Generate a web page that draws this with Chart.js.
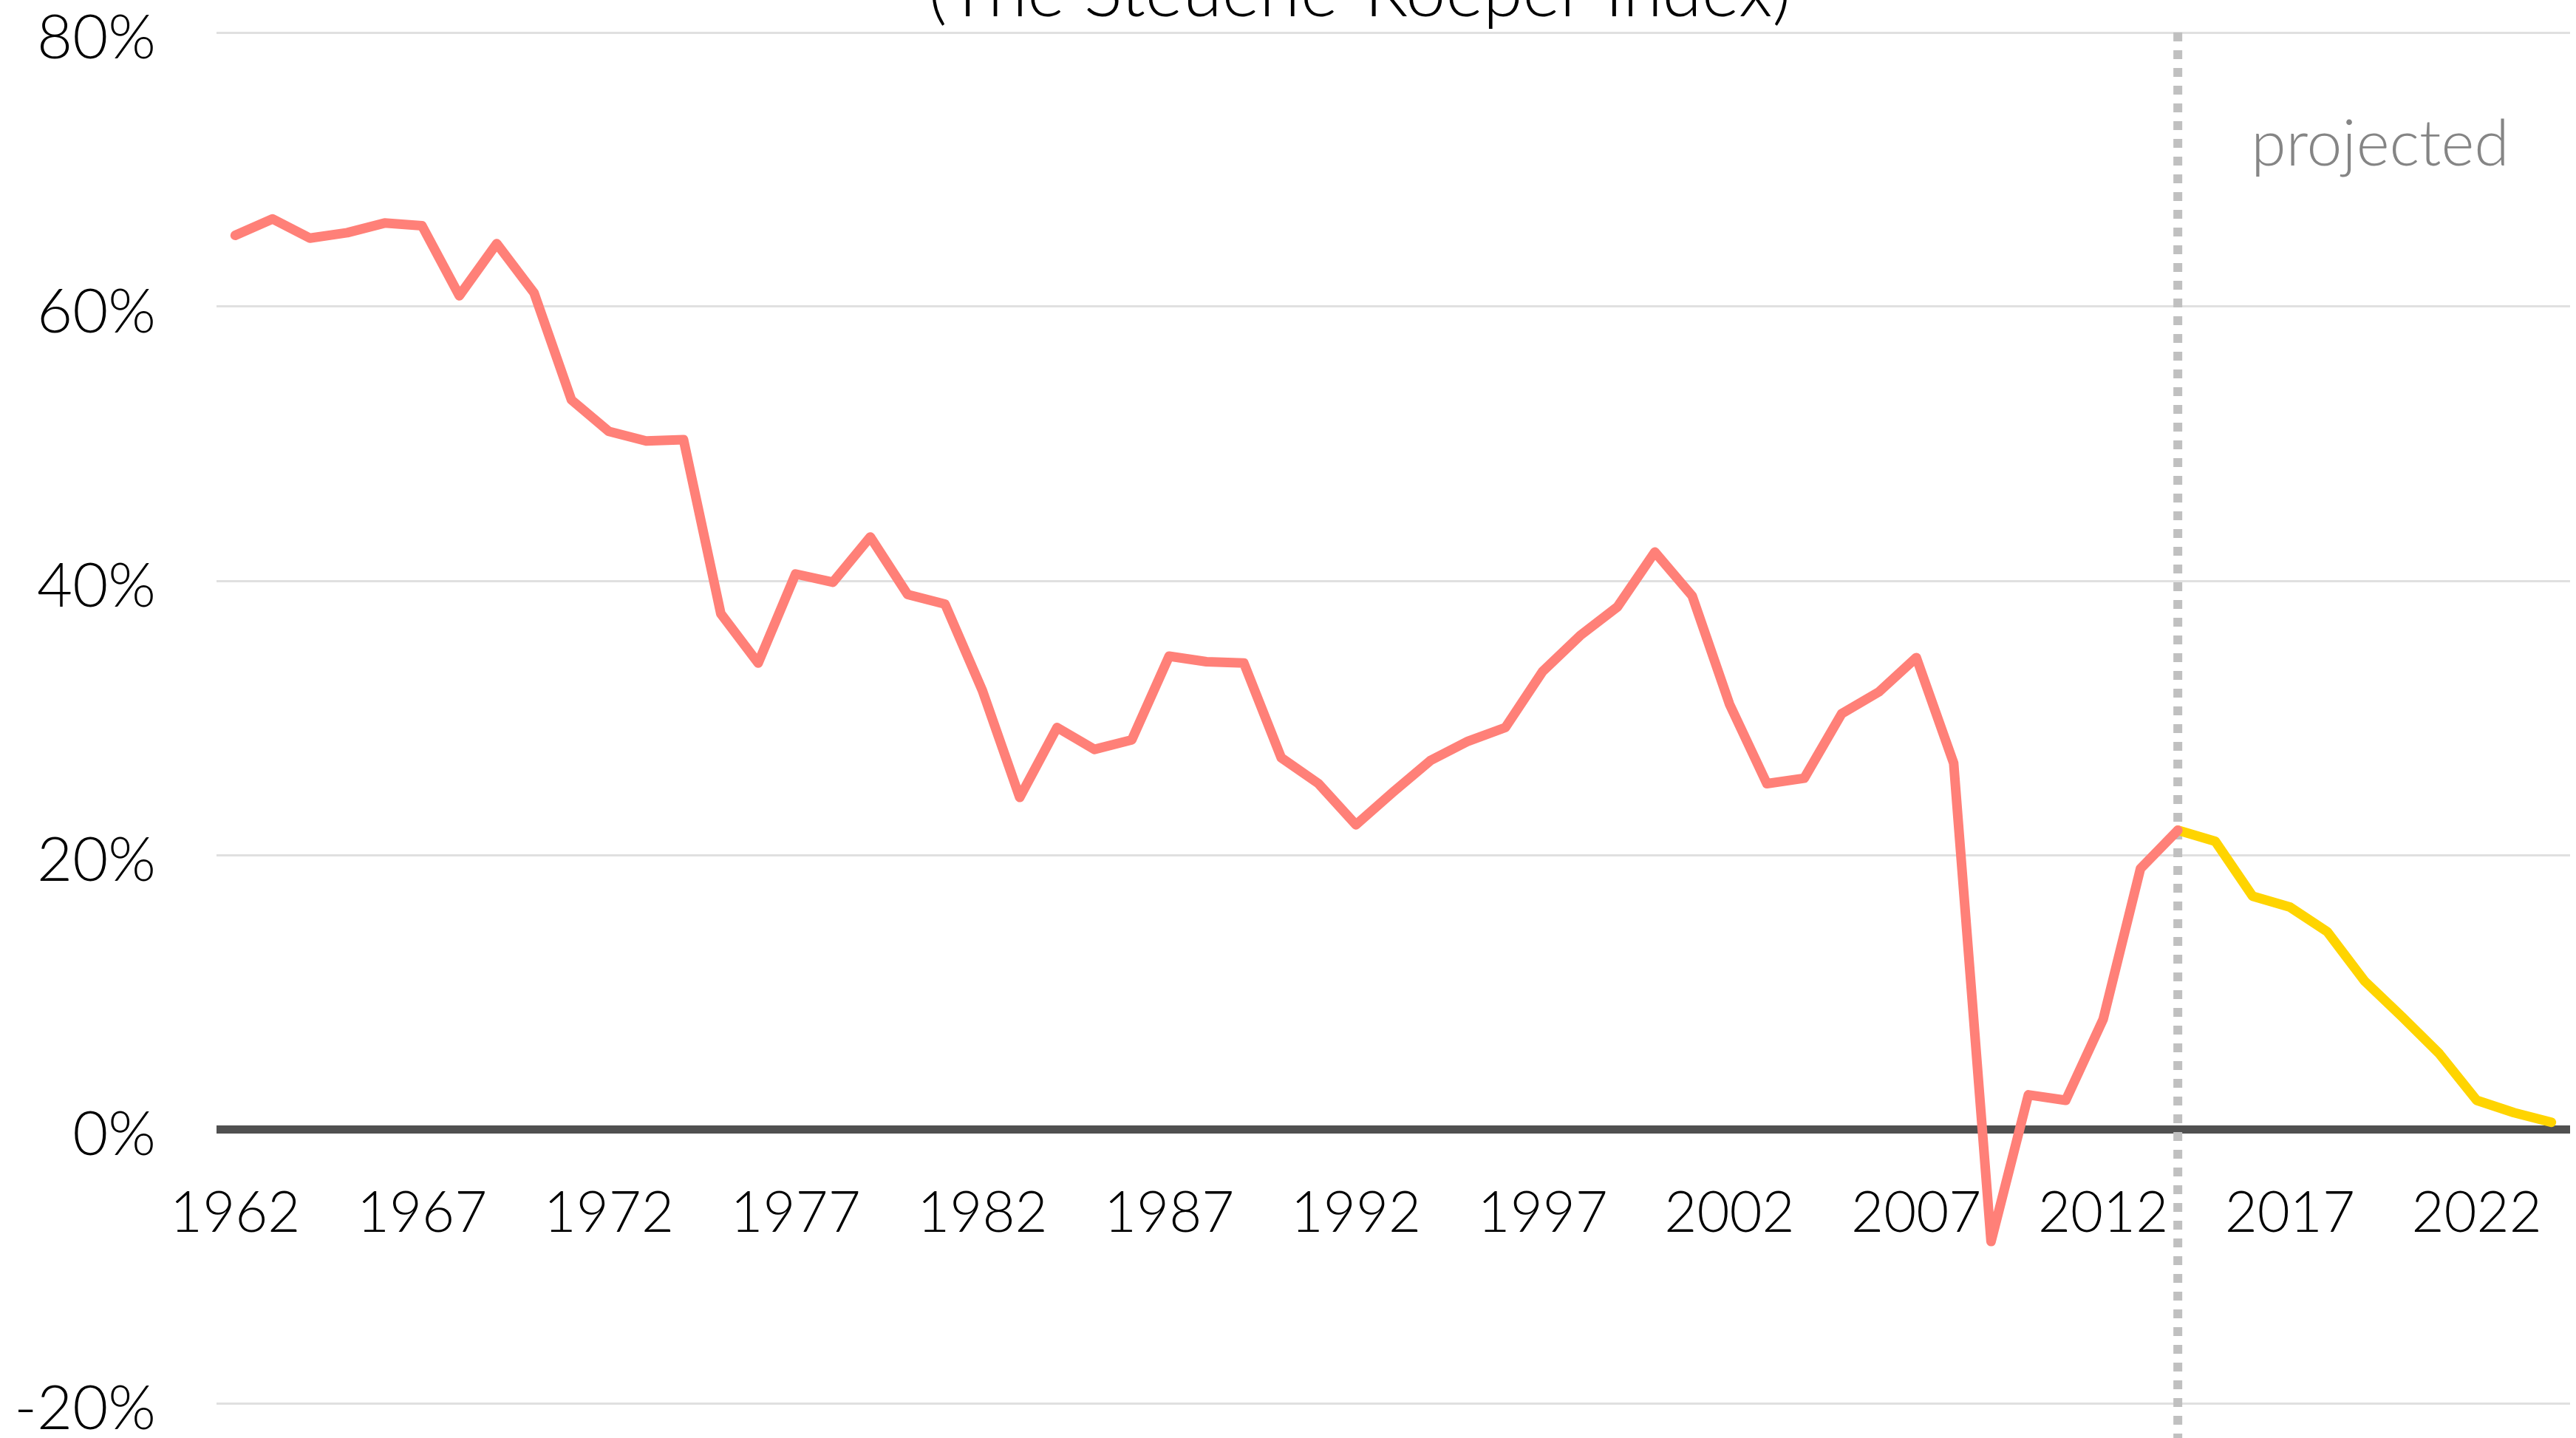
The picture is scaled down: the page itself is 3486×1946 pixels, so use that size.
<!DOCTYPE html>
<html>
<head>
<meta charset="utf-8">
<script src="https://cdn.jsdelivr.net/npm/chart.js@4.4.1/dist/chart.umd.min.js"></script>
<style>
  html, body { margin: 0; padding: 0; background: #fff; }
  #wrap { width: 3486px; height: 1946px; position: relative; }
</style>
</head>
<body>
<div id="wrap"><canvas id="myChart"></canvas></div>
<script>
// Datos (porcentaje)
const years = [
  1962, 1963, 1964, 1965, 1966, 1967, 1968, 1969, 1970, 1971,
  1972, 1973, 1974, 1975, 1976, 1977, 1978, 1979, 1980, 1981,
  1982, 1983, 1984, 1985, 1986, 1987, 1988, 1989, 1990, 1991,
  1992, 1993, 1994, 1995, 1996, 1997, 1998, 1999, 2000, 2001,
  2002, 2003, 2004, 2005, 2006, 2007, 2008, 2009, 2010, 2011,
  2012, 2013, 2014, 2015, 2016, 2017, 2018, 2019, 2020, 2021,
  2022, 2023, 2024
];

// 1962 - 2014
const historico = [
  65.2, 66.4, 65.0, 65.4, 66.1, 65.9, 60.8, 64.6, 61.0, 53.2,
  50.9, 50.2, 50.3, 37.6, 34.0, 40.5, 39.9, 43.2, 39.0, 38.3,
  32.0, 24.2, 29.3, 27.7, 28.4, 34.5, 34.1, 34.0, 27.1, 25.2,
  22.2, 24.6, 26.9, 28.3, 29.3, 33.4, 36.0, 38.1, 42.1, 38.9,
  31.0, 25.2, 25.6, 30.3, 31.9, 34.4, 26.7, -8.2, 2.5, 2.1,
  8.0, 19.0, 21.8
];

// 2014 - 2024 (proyectado)
const proyectado = [21.8, 21.0, 17.0, 16.2, 14.4, 10.8, 8.2, 5.5, 2.1, 1.2, 0.5];
const inicioProy = 2014;

const yTicks = [-20, 0, 20, 40, 60, 80];
const titulo = "(The Steuerle-Roeper Index)";
const etiquetaProy = "projected";

const idxProy = years.indexOf(inicioProy);
const serieHist = years.map((y, i) => (i < historico.length ? historico[i] : null));
const serieProy = years.map((y, i) => (i < idxProy ? null : proyectado[i - idxProy]));

const FONT = "Lato, 'Open Sans', sans-serif";

// Linea vertical punteada + textos
const extras = {
  id: "extras",
  beforeDatasetsDraw(chart) {
    const { ctx, chartArea, scales } = chart;
    const x = scales.x.getPixelForValue(idxProy);
    ctx.save();
    ctx.strokeStyle = "#c0c0c0";
    ctx.lineWidth = 12;
    ctx.setLineDash([12, 12]);
    ctx.beginPath();
    ctx.moveTo(x, chartArea.top);
    ctx.lineTo(x, chart.height);
    ctx.stroke();
    ctx.restore();
  },
  afterDraw(chart) {
    const { ctx, chartArea, scales } = chart;
    const x = scales.x.getPixelForValue(idxProy);
    ctx.save();
    ctx.fillStyle = "#858585";
    ctx.font = "300 86px " + FONT;
    ctx.textAlign = "left";
    ctx.textBaseline = "alphabetic";
    ctx.fillText(etiquetaProy, x + 99, chartArea.top + 180);

    ctx.fillStyle = "#000";
    ctx.font = "300 97px " + FONT;
    ctx.textAlign = "center";
    ctx.fillText(titulo, 1840, 22);
    ctx.restore();
  }
};

const ctx = document.getElementById("myChart").getContext("2d");
new Chart(ctx, {
  type: "line",
  data: {
    labels: years,
    datasets: [
      {
        label: "historico",
        data: serieHist,
        borderColor: "#ff8078",
        borderWidth: 13,
        pointRadius: 0,
        tension: 0,
        borderJoinStyle: "round",
        borderCapStyle: "round",
        spanGaps: false
      },
      {
        label: "proyectado",
        data: serieProy,
        borderColor: "#ffd400",
        borderWidth: 13,
        pointRadius: 0,
        tension: 0,
        borderJoinStyle: "round",
        borderCapStyle: "round",
        spanGaps: false
      }
    ]
  },
  options: {
    responsive: true,
    maintainAspectRatio: false,
    devicePixelRatio: 1,
    animation: false,
    layout: { padding: { top: 44, bottom: 47, left: 0, right: 8 } },
    plugins: {
      legend: { display: false },
      tooltip: { enabled: false }
    },
    scales: {
      x: {
        type: "category",
        offset: true,
        position: { y: 0 },
        grid: { display: false, drawTicks: false },
        border: { display: false },
        afterFit: (scale) => {
          scale.paddingLeft = 0;
          scale.paddingRight = 0;
        },
        ticks: {
          autoSkip: false,
          maxRotation: 0,
          padding: 69,
          color: "#000",
          font: { family: FONT, size: 76, weight: "300" },
          callback: (v, i) => (i % 5 === 0 ? String(years[i]) : null)
        }
      },
      y: {
        min: -20,
        max: 80,
        afterBuildTicks: (scale) => {
          scale.ticks = yTicks.map((v) => ({ value: v }));
        },
        afterFit: (scale) => {
          scale.width = 293;
          scale.paddingTop = 0;
          scale.paddingBottom = 0;
        },
        grid: {
          drawTicks: false,
          color: (c) => (c.tick && c.tick.value === 0 ? "#505050" : "#e0e0e0"),
          lineWidth: (c) => (c.tick && c.tick.value === 0 ? 11 : 3)
        },
        border: { display: false },
        ticks: {
          padding: 82,
          labelOffset: 8,
          color: "#000",
          font: { family: FONT, size: 83, weight: "300", lineHeight: 1 },
          callback: (v) => v + "%"
        }
      }
    }
  },
  plugins: [extras]
});
</script>
</body>
</html>
